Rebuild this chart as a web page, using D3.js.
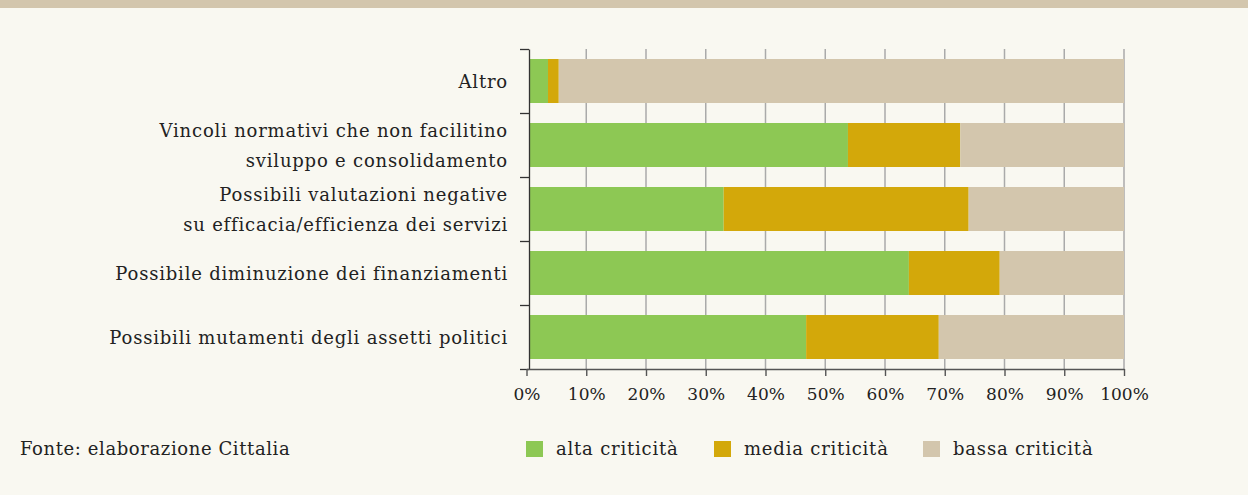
<!DOCTYPE html>
<html>
<head>
<meta charset="utf-8">
<script src="https://d3js.org/d3.v7.min.js"></script>
<style>
  html, body { margin: 0; padding: 0; background: #f9f8f1; }
  svg { display: block; }
  text { font-family: "DejaVu Serif", serif; fill: #222; }
</style>
</head>
<body>
<svg id="chart" width="1248" height="495"></svg>
<script>
// categories, top to bottom (each entry = label lines)
const categories = [
  ['Altro'],
  ['Vincoli normativi che non facilitino', 'sviluppo e consolidamento'],
  ['Possibili valutazioni negative', 'su efficacia/efficienza dei servizi'],
  ['Possibile diminuzione dei finanziamenti'],
  ['Possibili mutamenti degli assetti politici'],
];

// percentages per category
const alta = [3.6, 53.8, 33.0, 64.0, 46.8];
const media = [1.8, 18.8, 41.0, 15.2, 22.2];
const bassa = [94.6, 27.4, 26.0, 20.8, 31.0];

const seriesNames = ['alta criticità', 'media criticità', 'bassa criticità'];
const xTicks = [0, 10, 20, 30, 40, 50, 60, 70, 80, 90, 100];

const colors = ['#8dc854', '#d3a80a', '#d3c6ad'];

const svg = d3.select('#chart');

// beige band along the top
svg.append('rect')
  .attr('x', 0).attr('y', 0)
  .attr('width', 1248).attr('height', 8)
  .attr('fill', '#d3c6ad');

const plotTop = 49, plotBottom = 369;
const plotLeft = 526.5, plotRight = 1124;

const x = d3.scaleLinear().domain([0, 100]).range([plotLeft, plotRight]);

const y = d3.scaleBand()
  .domain(d3.range(categories.length))
  .range([plotTop, plotBottom])
  .paddingInner(0.3125)
  .paddingOuter(0.15625);

// gridlines behind the bars
svg.append('g')
  .selectAll('line')
  .data(xTicks.slice(1))
  .join('line')
  .attr('x1', d => x(d)).attr('x2', d => x(d))
  .attr('y1', plotTop).attr('y2', plotBottom)
  .attr('stroke', '#aaa')
  .attr('stroke-width', 1.5);

// stacked bars
const table = categories.map((c, i) => ({ i, a: alta[i], m: media[i], b: bassa[i] }));
const stacked = d3.stack().keys(['a', 'm', 'b'])(table);

svg.append('clipPath').attr('id', 'plot')
  .append('rect')
  .attr('x', 529.5).attr('y', plotTop)
  .attr('width', plotRight - 529.5).attr('height', plotBottom - plotTop);

svg.append('g')
  .attr('clip-path', 'url(#plot)')
  .selectAll('g')
  .data(stacked)
  .join('g')
  .attr('fill', (d, k) => colors[k])
  .selectAll('rect')
  .data(d => d)
  .join('rect')
  .attr('x', d => x(d[0]))
  .attr('y', d => y(d.data.i))
  .attr('width', d => x(d[1]) - x(d[0]))
  .attr('height', y.bandwidth());

// left axis: ticks on the band boundaries, no labels
const bounds = d3.scaleLinear().domain([0, categories.length]).range([plotTop, plotBottom]);
const yAxis = svg.append('g')
  .attr('transform', 'translate(529, 0)')
  .call(d3.axisLeft(bounds).ticks(categories.length).tickSize(9).tickSizeOuter(0).tickFormat(''));
yAxis.selectAll('line, path').attr('stroke', '#333').attr('stroke-width', 1.3);

// category labels
svg.append('g')
  .selectAll('text')
  .data(categories)
  .join('text')
  .attr('text-anchor', 'end')
  .attr('font-size', 18)
  .attr('letter-spacing', 0.8)
  .each(function (lines, i) {
    const cy = y(i) + y.bandwidth() / 2;
    d3.select(this).selectAll('tspan')
      .data(lines)
      .join('tspan')
      .attr('x', 508)
      .attr('y', (l, j) => cy + 7 + (j - (lines.length - 1) / 2) * 29.5)
      .text(l => l);
  });

// bottom axis
const xAxis = svg.append('g')
  .attr('transform', `translate(0, ${plotBottom})`)
  .call(d3.axisBottom(x).tickValues(xTicks).tickSize(7).tickSizeOuter(0).tickFormat(d => d + '%'));
xAxis.select('.domain').attr('stroke', '#555').attr('stroke-width', 1.6);
xAxis.selectAll('.tick line').attr('stroke', '#555').attr('stroke-width', 1.4);
xAxis.selectAll('.tick text')
  .attr('y', 19)
  .attr('font-family', '"DejaVu Serif", serif')
  .attr('font-size', 17)
  .attr('fill', '#222');

// source note
svg.append('text')
  .attr('x', 20).attr('y', 455)
  .attr('font-size', 18)
  .attr('letter-spacing', 0.6)
  .text('Fonte: elaborazione Cittalia');

// legend
const legendX = [526, 714, 923];
const legend = svg.append('g')
  .selectAll('g')
  .data(seriesNames)
  .join('g')
  .attr('transform', (d, k) => `translate(${legendX[k]}, 441)`);
legend.append('rect')
  .attr('width', 17).attr('height', 16)
  .attr('fill', (d, k) => colors[k]);
legend.append('text')
  .attr('x', 30).attr('y', 14)
  .attr('font-size', 18)
  .attr('letter-spacing', 0.8)
  .text(d => d);
</script>
</body>
</html>
